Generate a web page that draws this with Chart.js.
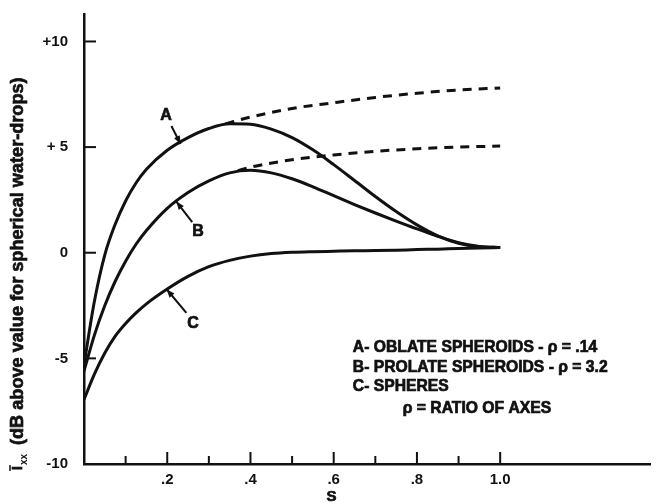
<!DOCTYPE html>
<html><head><meta charset="utf-8">
<script src="https://cdn.jsdelivr.net/npm/chart.js@4.4.1/dist/chart.umd.min.js"></script>
<style>html,body{margin:0;padding:0;background:#fff}#wrap{width:657px;height:504px}</style>
</head><body><div id="wrap"><canvas id="c" width="657" height="504"></canvas></div>
<script>
// ---- data ----
const sValues = [0, 0.025, 0.05, 0.075, 0.1, 0.125, 0.15, 0.2, 0.25, 0.3, 0.35, 0.4, 0.45, 0.5, 0.55, 0.6, 0.65, 0.7, 0.75, 0.8, 0.85, 0.9, 0.95, 1.0];
const curveA = [-5.3, -2.3, -0.1, 1.35, 2.45, 3.3, 3.95, 4.85, 5.45, 5.88, 6.1, 6.08, 5.85, 5.45, 4.87, 4.17, 3.42, 2.66, 1.95, 1.32, 0.8, 0.45, 0.28, 0.25];
const curveB = [-5.6, -3.9, -2.5, -1.35, -0.4, 0.4, 1.05, 2.1, 2.85, 3.4, 3.78, 3.9, 3.78, 3.5, 3.12, 2.7, 2.28, 1.88, 1.5, 1.13, 0.78, 0.48, 0.3, 0.25];
const curveC = [-6.95, -5.75, -4.75, -3.95, -3.35, -2.85, -2.42, -1.72, -1.12, -0.66, -0.36, -0.16, -0.04, 0.02, 0.05, 0.07, 0.09, 0.1, 0.12, 0.15, 0.17, 0.2, 0.22, 0.25];
const dashAS = [0.34, 0.4, 0.5, 0.6, 0.7, 0.8, 0.9, 1.0];
const dashA  = [6.1, 6.42, 6.83, 7.1, 7.35, 7.55, 7.7, 7.8];
const dashBS = [0.37, 0.4, 0.5, 0.6, 0.7, 0.8, 0.9, 1.0];
const dashB  = [3.88, 4.05, 4.4, 4.63, 4.8, 4.92, 5.0, 5.05];
const xLabelValues = [0.2, 0.4, 0.6, 0.8, 1.0];
const xLabelTexts  = ['.2', '.4', '.6', '.8', '1.0'];
const xMarkValues  = [0.1, 0.2, 0.3, 0.4, 0.5, 0.6, 0.7, 0.8, 0.9, 1.0];
const yLabelValues = [10, 5, 0, -5, -10];
const yLabelTexts  = ['+10', '+ 5', '0', '-5', '-10'];
const legendLines  = ['A- OBLATE SPHEROIDS - \u03c1 = .14', 'B- PROLATE SPHEROIDS - \u03c1 = 3.2', 'C- SPHERES', '\u03c1 = RATIO OF AXES'];
const curveNames   = ['A', 'B', 'C'];
const yTitleMain   = '(dB above value for spherical water-drops)';
const xTitle       = 'S';

const ink = '#111';
const fam = '"Liberation Sans", Arial, sans-serif';
const pts = (xs, ys) => xs.map((v, i) => ({x: v, y: ys[i]}));
const solid = (lbl, ys) => ({label: lbl, data: pts(sValues, ys), borderColor: ink, borderWidth: 3, pointRadius: 0, cubicInterpolationMode: 'monotone', fill: false});
const dashed = (lbl, xs, ys) => ({label: lbl, data: pts(xs, ys), borderColor: ink, borderWidth: 3, borderDash: [9, 7], pointRadius: 0, cubicInterpolationMode: 'monotone', fill: false});

function fitFont(ctx, text, target, weight, family) {
  ctx.font = weight + ' 20px ' + family;
  const w = ctx.measureText(text).width;
  return 20 * target / w;
}
function heavyText(ctx, t, px, py) {
  ctx.fillText(t, px, py);
  ctx.lineWidth = 0.7; ctx.strokeText(t, px, py);
}
function arrow(ctx, x1, y1, x2, y2) {
  ctx.lineWidth = 2;
  ctx.beginPath(); ctx.moveTo(x1, y1); ctx.lineTo(x2, y2); ctx.stroke();
  const a = Math.atan2(y2 - y1, x2 - x1), L = 8, W = 3.2;
  ctx.beginPath();
  ctx.moveTo(x2, y2);
  ctx.lineTo(x2 - L * Math.cos(a) + W * Math.sin(a), y2 - L * Math.sin(a) - W * Math.cos(a));
  ctx.lineTo(x2 - L * Math.cos(a) - W * Math.sin(a), y2 - L * Math.sin(a) + W * Math.cos(a));
  ctx.closePath(); ctx.fill();
}

const decor = {
  id: 'decor',
  afterDraw(chart) {
    const {ctx, scales: {x, y}} = chart;
    ctx.save();
    ctx.strokeStyle = ink; ctx.fillStyle = ink; ctx.lineWidth = 2;
    // inward tick marks
    xMarkValues.forEach(v => {
      const major = xLabelValues.some(m => Math.abs(m - v) < 1e-6);
      const px = x.getPixelForValue(v);
      ctx.lineWidth = 2;
      ctx.beginPath(); ctx.moveTo(px, y.bottom); ctx.lineTo(px, y.bottom - (major ? 12 : 8)); ctx.stroke();
    });
    yLabelValues.filter(v => v > -10).forEach(v => {
      const py = y.getPixelForValue(v);
      ctx.lineWidth = 2;
      ctx.beginPath(); ctx.moveTo(x.left, py); ctx.lineTo(x.left + 12, py); ctx.stroke();
    });
    // curve labels with arrows (data coordinates)
    const lab = [
      {t: curveNames[0], lx: 0.197, ly: 6.5, ax: 0.21, ay: 6.0, tx: 0.232, ty: 5.15},
      {t: curveNames[1], lx: 0.274, ly: 1.0, ax: 0.26, ay: 1.45, tx: 0.222, ty: 2.42},
      {t: curveNames[2], lx: 0.262, ly: -3.35, ax: 0.246, ay: -2.85, tx: 0.199, ty: -1.74}
    ];
    ctx.font = 'bold 16px ' + fam;
    ctx.textAlign = 'center'; ctx.textBaseline = 'middle';
    lab.forEach(l => {
      heavyText(ctx, l.t, x.getPixelForValue(l.lx), y.getPixelForValue(l.ly));
      arrow(ctx, x.getPixelForValue(l.ax), y.getPixelForValue(l.ay), x.getPixelForValue(l.tx), y.getPixelForValue(l.ty));
    });
    // legend block
    const fs = fitFont(ctx, legendLines[1], 255, 'bold', fam);
    ctx.font = 'bold ' + fs.toFixed(2) + 'px ' + fam;
    ctx.textAlign = 'left';
    const lx0 = x.getPixelForValue(0.646);
    const rows = [-4.5, -5.45, -6.35, -7.38];
    legendLines.forEach((t, i) => {
      const px = i === 3 ? x.getPixelForValue(0.766) : lx0;
      heavyText(ctx, t, px, y.getPixelForValue(rows[i]));
    });
    // x title
    ctx.font = 'bold 15px ' + fam; ctx.textAlign = 'center';
    heavyText(ctx, xTitle, x.getPixelForValue(0.595), 497);
    // y title (rotated)
    ctx.translate(18, 0); ctx.rotate(-Math.PI / 2);
    ctx.textAlign = 'left'; ctx.textBaseline = 'middle';
    const mfs = fitFont(ctx, yTitleMain, 368, 'bold', fam);
    ctx.font = 'bold ' + mfs.toFixed(2) + 'px ' + fam;
    heavyText(ctx, yTitleMain, -445, 0);
    ctx.font = 'bold 14px ' + fam;
    const iw = ctx.measureText('I').width;
    heavyText(ctx, 'I', -470, 0);
    ctx.lineWidth = 1.5;
    ctx.beginPath(); ctx.moveTo(-470 - 1, -8); ctx.lineTo(-470 + iw + 1, -8); ctx.stroke();
    ctx.font = 'bold 10px ' + fam;
    ctx.fillText('xx', -470 + iw + 1, 6);
    ctx.restore();
  }
};

new Chart(document.getElementById('c'), {
  type: 'line',
  data: {datasets: [solid('A', curveA), solid('B', curveB), solid('C', curveC), dashed('A ext', dashAS, dashA), dashed('B ext', dashBS, dashB)]},
  options: {
    responsive: false, animation: false,
    layout: {padding: {top: 14, right: 7, left: 0, bottom: 0}},
    plugins: {legend: {display: false}, tooltip: {enabled: false}},
    scales: {
      x: {
        type: 'linear', min: 0, max: 1.36,
        afterFit(s) { s.height = 40; s.paddingLeft = 0; s.paddingRight = 0; },
        border: {display: true, color: ink, width: 2.5},
        grid: {display: true, drawOnChartArea: false, drawTicks: false},
        ticks: {
          stepSize: 0.1, includeBounds: false, autoSkip: false, maxRotation: 0, padding: 7, color: ink,
          font: {family: fam, weight: 'bold', size: 15},
          callback(v) { const i = xLabelValues.findIndex(m => Math.abs(m - v) < 1e-6); return i >= 0 ? xLabelTexts[i] : ''; }
        }
      },
      y: {
        type: 'linear', min: -10, max: 11.3,
        afterFit(s) { s.width = 84; s.paddingTop = 0; s.paddingBottom = 0; },
        border: {display: true, color: ink, width: 2.5},
        grid: {display: true, drawOnChartArea: false, drawTicks: false},
        ticks: {
          stepSize: 5, includeBounds: false, padding: 16, color: ink,
          font: {family: fam, weight: 'bold', size: 15},
          callback(v) { const i = yLabelValues.findIndex(m => Math.abs(m - v) < 1e-6); return i >= 0 ? yLabelTexts[i] : ''; }
        }
      }
    }
  },
  plugins: [decor]
});
</script>
</body></html>
